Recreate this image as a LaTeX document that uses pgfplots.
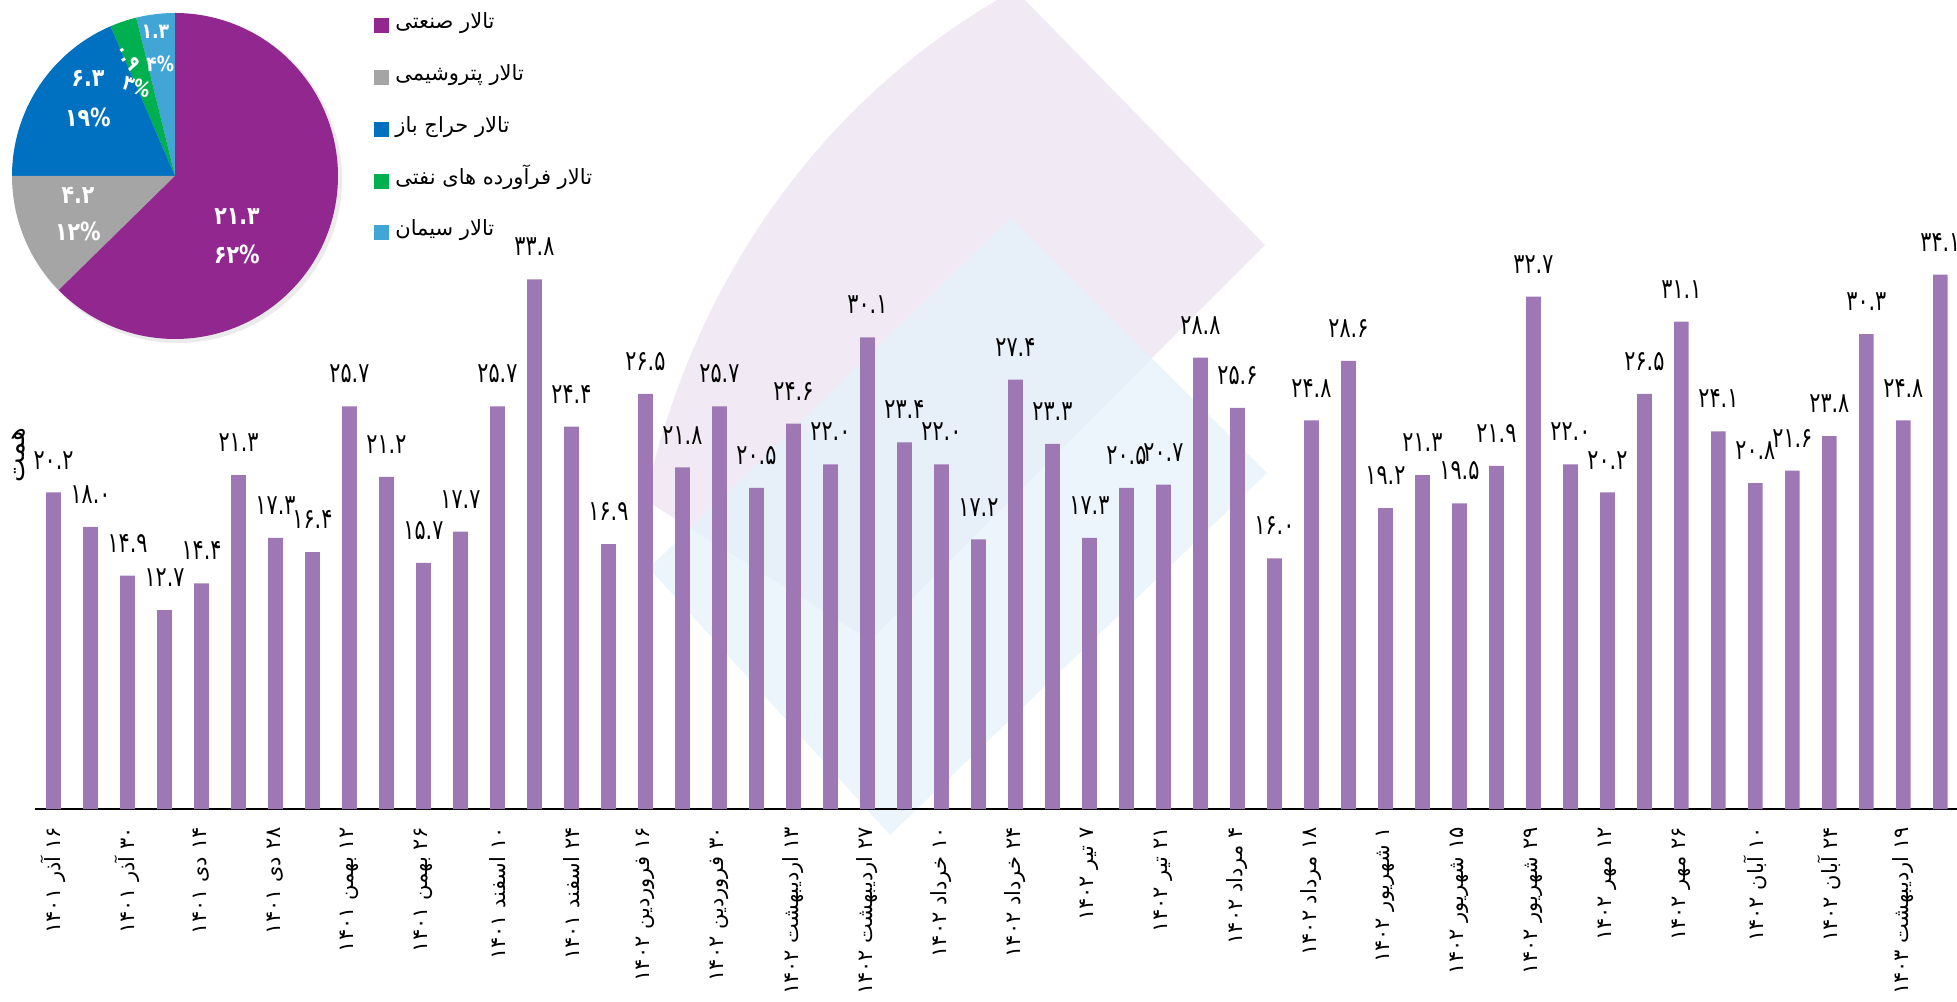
\documentclass[border=0pt]{standalone}
\usepackage{pgfplots}
\pgfplotsset{compat=1.18}
\usepackage{fontspec}
\TeXXeTstate=1
\newfontfamily\fa[Script=Arabic]{DejaVu Sans}
\newfontfamily\fan[Script=Arabic,FakeStretch=0.82]{DejaVu Sans}
\newfontfamily\fav[Script=Arabic,FakeStretch=0.74]{DejaVu Sans}
\definecolor{barc}{HTML}{9E78B5}
\definecolor{pPur}{HTML}{92278F}
\definecolor{pGra}{HTML}{A5A5A5}
\definecolor{pBlu}{HTML}{0070C0}
\definecolor{pGre}{HTML}{00B050}
\definecolor{pCya}{HTML}{41A6D5}
\definecolor{wmP}{HTML}{F1E9F3}
\definecolor{wmB}{HTML}{E4F2FA}
\begin{document}
\begin{tikzpicture}[x=1pt,y=1pt]
\useasboundingbox (-17.5,-96) rectangle (961,404.5);
% background watermark
\fill[wmP] (305,154.5) .. controls (332.5,279.5) and (407.5,364.5) .. (490,409.5) -- (615,282) -- (417.5,84.5) -- cycle;
\fill[wmB,opacity=0.75] (488,295.5) -- (616,168) -- (427.5,-13) -- (307,120.5) -- cycle;

\begin{axis}[at={(0,0)}, anchor=south west, scale only axis,
  width=961pt, height=404.5pt,
  xmin=0.5, xmax=52.45, ymin=0, ymax=51.63,
  axis x line=bottom, axis y line=none,
  x axis line style={-, line width=1.3pt, black},
  ybar, bar width=7.35pt,
  xtick={1,3,...,51}, major tick length=0pt,
  xticklabels={
   {\beginR ۱۶ آذر ۱۴۰۱\endR},{\beginR ۳۰ آذر ۱۴۰۱\endR},{\beginR ۱۴ دی ۱۴۰۱\endR},{\beginR ۲۸ دی ۱۴۰۱\endR},
   {\beginR ۱۲ بهمن ۱۴۰۱\endR},{\beginR ۲۶ بهمن ۱۴۰۱\endR},{\beginR ۱۰ اسفند ۱۴۰۱\endR},{\beginR ۲۴ اسفند ۱۴۰۱\endR},
   {\beginR ۱۶ فروردین ۱۴۰۲\endR},{\beginR ۳۰ فروردین ۱۴۰۲\endR},{\beginR ۱۳ اردیبهشت ۱۴۰۲\endR},{\beginR ۲۷ اردیبهشت ۱۴۰۲\endR},
   {\beginR ۱۰ خرداد ۱۴۰۲\endR},{\beginR ۲۴ خرداد ۱۴۰۲\endR},{\beginR ۷ تیر ۱۴۰۲\endR},{\beginR ۲۱ تیر ۱۴۰۲\endR},
   {\beginR ۴ مرداد ۱۴۰۲\endR},{\beginR ۱۸ مرداد ۱۴۰۲\endR},{\beginR ۱ شهریور ۱۴۰۲\endR},{\beginR ۱۵ شهریور ۱۴۰۲\endR},
   {\beginR ۲۹ شهریور ۱۴۰۲\endR},{\beginR ۱۲ مهر ۱۴۰۲\endR},{\beginR ۲۶ مهر ۱۴۰۲\endR},{\beginR ۱۰ آبان ۱۴۰۲\endR},
   {\beginR ۲۴ آبان ۱۴۰۲\endR},{\beginR ۱۹ اردیبهشت ۱۴۰۳\endR}},
  xticklabel style={yshift=-9pt, rotate=90, anchor=east, inner sep=0pt,
     font=\fa\fontsize{10.5}{12}\selectfont},
  nodes near coords, point meta=explicit symbolic,
  nodes near coords style={font=\fav\fontsize{14}{16}\selectfont, inner sep=0pt, yshift=11.5pt},
  clip=false]
\addplot[fill=barc, draw=none] coordinates {
(1,20.2) [۲۰.۲] (2,18.0) [۱۸.۰] (3,14.9) [۱۴.۹] (4,12.7) [۱۲.۷]
(5,14.4) [۱۴.۴] (6,21.3) [۲۱.۳] (7,17.3) [۱۷.۳] (8,16.4) [۱۶.۴]
(9,25.7) [۲۵.۷] (10,21.2) [۲۱.۲] (11,15.7) [۱۵.۷] (12,17.7) [۱۷.۷]
(13,25.7) [۲۵.۷] (14,33.8) [۳۳.۸] (15,24.4) [۲۴.۴] (16,16.9) [۱۶.۹]
(17,26.5) [۲۶.۵] (18,21.8) [۲۱.۸] (19,25.7) [۲۵.۷] (20,20.5) [۲۰.۵]
(21,24.6) [۲۴.۶] (22,22.0) [۲۲.۰] (23,30.1) [۳۰.۱] (24,23.4) [۲۳.۴]
(25,22.0) [۲۲.۰] (26,17.2) [۱۷.۲] (27,27.4) [۲۷.۴] (28,23.3) [۲۳.۳]
(29,17.3) [۱۷.۳] (30,20.5) [۲۰.۵] (31,20.7) [۲۰.۷] (32,28.8) [۲۸.۸]
(33,25.6) [۲۵.۶] (34,16.0) [۱۶.۰] (35,24.8) [۲۴.۸] (36,28.6) [۲۸.۶]
(37,19.2) [۱۹.۲] (38,21.3) [۲۱.۳] (39,19.5) [۱۹.۵] (40,21.9) [۲۱.۹]
(41,32.7) [۳۲.۷] (42,22.0) [۲۲.۰] (43,20.2) [۲۰.۲] (44,26.5) [۲۶.۵]
(45,31.1) [۳۱.۱] (46,24.1) [۲۴.۱] (47,20.8) [۲۰.۸] (48,21.6) [۲۱.۶]
(49,23.8) [۲۳.۸] (50,30.3) [۳۰.۳] (51,24.8) [۲۴.۸] (52,34.1) [۳۴.۱]
};
\end{axis}
\node[rotate=90, inner sep=0pt, font=\fa\fontsize{13}{15}\selectfont] at (-8,177) {\beginR همت\endR};

% pie
\pgfmathsetmacro\tot{21.3+4.2+6.3+0.9+1.3}
\pgfmathsetmacro\aA{90+1.3/\tot*360}
\pgfmathsetmacro\aB{\aA+0.9/\tot*360}
\pgfmathsetmacro\aC{\aB+6.3/\tot*360}
\pgfmathsetmacro\aD{\aC+4.2/\tot*360}
\fill[black,opacity=0.08] (71.5,315) circle (82pt);
\begin{axis}[at={(70pt,316.5pt)}, anchor=center, scale only axis,
  width=163pt, height=163pt, xmin=-1, xmax=1, ymin=-1, ymax=1,
  hide axis, clip=false]
\fill[pCya] (axis cs:0,0) -- ++(90:81.5pt) arc[start angle=90, end angle=\aA, radius=81.5pt] -- cycle;
\fill[pGre] (axis cs:0,0) -- ++(\aA:81.5pt) arc[start angle=\aA, end angle=\aB, radius=81.5pt] -- cycle;
\fill[pBlu] (axis cs:0,0) -- ++(\aB:81.5pt) arc[start angle=\aB, end angle=\aC, radius=81.5pt] -- cycle;
\fill[pGra] (axis cs:0,0) -- ++(\aC:81.5pt) arc[start angle=\aC, end angle=\aD, radius=81.5pt] -- cycle;
\fill[pPur] (axis cs:0,0) -- ++(\aD:81.5pt) arc[start angle=\aD, end angle=450, radius=81.5pt] -- cycle;
\begin{scope}[every node/.style={text=white, inner sep=0pt, font=\fan\bfseries\fontsize{12.5}{14}\selectfont}]
\node at (axis cs:0.38,-0.25) {۲۱.۳};
\node at (axis cs:0.38,-0.48) {۶۲\%};
\node at (axis cs:-0.595,-0.117) {۴.۲};
\node at (axis cs:-0.595,-0.34) {۱۲\%};
\node at (axis cs:-0.534,0.601) {۶.۳};
\node at (axis cs:-0.534,0.362) {۱۹\%};
\node[rotate=-55, font=\fan\bfseries\fontsize{10.5}{12}\selectfont] at (axis cs:-0.29,0.73) {۰.۹};
\node[rotate=-20, font=\fan\bfseries\fontsize{10.5}{12}\selectfont] at (axis cs:-0.23,0.55) {۳\%};
\node[font=\fan\bfseries\fontsize{10.5}{12}\selectfont] at (axis cs:-0.12,0.885) {۱.۳};
\node[font=\fan\bfseries\fontsize{10.5}{12}\selectfont] at (axis cs:-0.09,0.69) {۴\%};
\end{scope}
\end{axis}

% legend
\begin{scope}[every node/.style={anchor=base west, inner sep=0pt, font=\fa\fontsize{10.5}{13}\selectfont}]
\fill[pPur] (169.5,387.75) rectangle ++(7.5,7.5); \node at (180,390) {\beginR تالار صنعتی\endR};
\fill[pGra] (169.5,361.75) rectangle ++(7.5,7.5); \node at (180,364) {\beginR تالار پتروشیمی\endR};
\fill[pBlu] (169.5,335.75) rectangle ++(7.5,7.5); \node at (180,338) {\beginR تالار حراج باز\endR};
\fill[pGre] (169.5,309.75) rectangle ++(7.5,7.5); \node at (180,312) {\beginR تالار فرآورده های نفتی\endR};
\fill[pCya] (169.5,284.25) rectangle ++(7.5,7.5); \node at (180,286.5) {\beginR تالار سیمان\endR};
\end{scope}
\end{tikzpicture}
\end{document}
